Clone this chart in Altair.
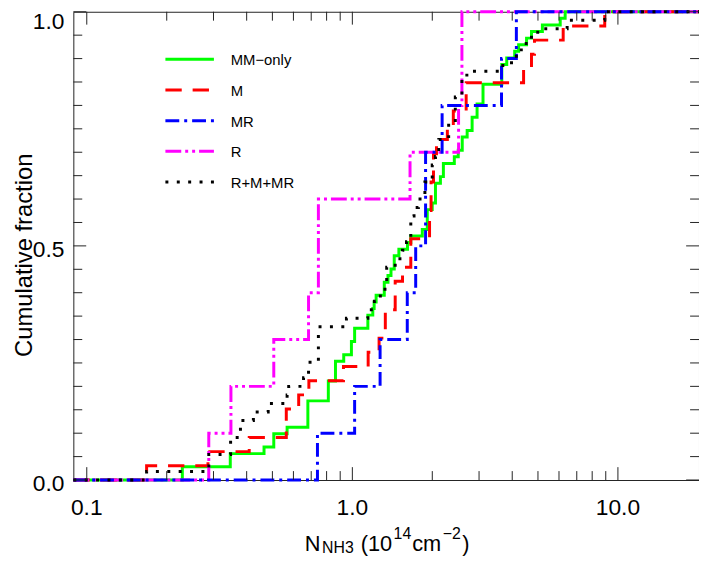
import altair as alt
import numpy as np
import pandas as pd

# ---------------- data (N_NH3 in units of 1e14 cm^-2) -------------
mm_only = [0.229, 0.229, 0.347, 0.347, 0.465, 0.506, 0.506, 0.568, 0.680, 0.680, 0.680, 0.680,
           0.812, 0.812, 0.812, 0.864, 0.864, 0.864, 0.928, 0.992, 0.992, 1.020, 1.020,
           1.144, 1.144, 1.194, 1.208, 1.229, 1.319, 1.319, 1.362, 1.398, 1.438, 1.438,
           1.497, 1.613, 1.660, 1.834, 1.915, 1.915, 1.915, 1.999, 2.056, 2.056, 2.056,
           2.146, 2.202, 2.202, 2.421, 2.505, 2.593, 2.593, 2.706, 2.825, 2.825, 2.949, 2.949,
           3.105, 3.105, 3.105, 3.654, 3.654, 3.654, 3.814, 4.086, 4.228, 4.529, 4.727,
           5.195, 6.064, 6.329]
m_vals = [0.168, 0.286, 0.409, 0.564, 0.564, 0.628, 0.686, 0.926, 1.147, 1.261, 1.331, 1.331,
          1.450, 1.450, 1.545, 1.660, 1.660, 1.953, 1.953, 1.979, 1.979, 2.021, 2.021, 2.074,
          2.279, 2.400, 2.683, 2.683, 4.414, 4.727, 4.851, 6.222, 8.92]
mr_vals = [0.739, 1.020, 1.272, 1.610, 1.732, 1.887, 1.887, 2.178, 3.645, 4.146]
r_vals = [0.288, 0.349, 0.506, 0.684, 0.745, 0.745, 1.649, 2.512, 2.586, 2.586]
rmmr_vals = [0.168, 0.288, 0.288, 0.348, 0.348, 0.379, 0.379, 0.424, 0.482, 0.568, 0.576,
             0.655, 0.684, 0.693, 0.745, 0.745, 0.745, 0.745, 0.950, 1.144, 1.211, 1.275,
             1.327, 1.347, 1.347, 1.450, 1.545, 1.599, 1.660, 1.660, 1.660, 1.707, 1.773,
             1.876, 1.876, 1.999, 1.999, 2.056, 2.116, 2.116, 2.305, 2.305, 2.442, 2.442,
             2.442, 2.586, 2.586, 2.699, 3.686, 4.146, 4.327, 4.516, 4.990, 6.439, 8.92]

series_names = ["MM\u2212only", "M", "MR", "R", "R+M+MR"]
series_values = [mm_only, m_vals, mr_vals, r_vals, rmmr_vals]
series_colors = ["#00ff00", "#ff0000", "#0000ff", "#ff00ff", "#000000"]
series_dashes = [None, [16.5, 11], [14, 5, 3, 5], [16, 4, 3, 4, 3, 4], [3, 8.5]]
draw_order = [0, 1, 3, 2, 4]

x_major = [0.1, 1.0, 10.0]
x_major_labels = ["0.1", "1.0", "10.0"]
x_minor = [0.2, 0.3, 0.4, 0.5, 0.6, 0.7, 0.8, 0.9, 2, 3, 4, 5, 6, 7, 8, 9]
y_major = [0.0, 0.5, 1.0]
y_major_labels = ["0.0", "0.5", "1.0"]
y_minor = [0.05, 0.10, 0.15, 0.20, 0.25, 0.30, 0.35, 0.40, 0.45,
           0.55, 0.60, 0.65, 0.70, 0.75, 0.80, 0.85, 0.90, 0.95]

XMIN, XMAX = 0.089, 20.2
W, H = 632, 473
FONT = "Liberation Sans"
TICK = "#222222"

xs = alt.Scale(type="log", domain=[XMIN, XMAX], nice=False)
ys = alt.Scale(domain=[0, 1], nice=False, zero=False)


def cdf_frame(vals):
    v = np.sort(np.asarray(vals, dtype=float))
    u, c = np.unique(v, return_counts=True)
    cum = np.cumsum(c) / len(v)
    x = np.concatenate([[XMIN], u, [XMAX]])
    y = np.concatenate([[0.0], cum, [1.0]])
    return pd.DataFrame({"x": x, "y": y, "i": np.arange(len(x))})


layers = []

# step CDF lines
for k in draw_order:
    props = dict(color=series_colors[k], strokeWidth=3, interpolate="step-after")
    if series_dashes[k] is not None:
        props["strokeDash"] = series_dashes[k]
    layers.append(
        alt.Chart(cdf_frame(series_values[k])).mark_line(**props).encode(
            x=alt.X("x:Q", scale=xs, axis=None),
            y=alt.Y("y:Q", scale=ys, axis=None),
            order=alt.Order("i:Q"),
        )
    )

# inward ticks on all four sides
def xticks(vals, L):
    df = pd.DataFrame({"v": vals})
    base = alt.Chart(df).mark_rule(color=TICK, strokeWidth=1)
    return [
        base.encode(x=alt.X("v:Q", scale=xs, axis=None), y=alt.value(H), y2=alt.value(H - L)),
        base.encode(x=alt.X("v:Q", scale=xs, axis=None), y=alt.value(0), y2=alt.value(L)),
    ]


def yticks(vals, L):
    df = pd.DataFrame({"v": vals})
    base = alt.Chart(df).mark_rule(color=TICK, strokeWidth=1)
    return [
        base.encode(y=alt.Y("v:Q", scale=ys, axis=None), x=alt.value(0), x2=alt.value(L)),
        base.encode(y=alt.Y("v:Q", scale=ys, axis=None), x=alt.value(W), x2=alt.value(W - L)),
    ]


layers += xticks(x_minor, 9) + xticks(x_major, 13) + yticks(y_minor, 9) + yticks(y_major, 13)

# tick labels
xl = pd.DataFrame({"v": x_major, "t": x_major_labels})
layers.append(
    alt.Chart(xl).mark_text(font=FONT, fontSize=23, align="center", baseline="middle", color="black").encode(
        x=alt.X("v:Q", scale=xs, axis=None), y=alt.value(H + 28.5), text="t:N")
)
yl = pd.DataFrame({"v": y_major, "t": y_major_labels})
layers.append(
    alt.Chart(yl.iloc[:2]).mark_text(font=FONT, fontSize=23, align="right", baseline="middle", dy=4,
                                     color="black").encode(
        y=alt.Y("v:Q", scale=ys, axis=None), x=alt.value(-9), text="t:N")
)
layers.append(
    alt.Chart(yl.iloc[2:]).mark_text(font=FONT, fontSize=23, align="right", baseline="middle", dy=10.5,
                                     color="black").encode(
        y=alt.Y("v:Q", scale=ys, axis=None), x=alt.value(-9), text="t:N")
)

# y-axis title
layers.append(
    alt.Chart(pd.DataFrame({"t": ["Cumulative fraction"]})).mark_text(
        font=FONT, fontSize=24, angle=270, align="center", baseline="top", color="black"
    ).encode(x=alt.value(-61), y=alt.value(246), text="t:N")
)

# x-axis title  N_NH3 (10^14 cm^-2), laid out piece by piece
EM = {"N": .722, "H": .722, "3": .556, "(": .333, "1": .556, "0": .556, "4": .556,
      "c": .5, "m": .833, "\u2212": .584, "2": .556, ")": .333, " ": .278}
MAIN, SUB = 22, 16
title_parts = [("N", MAIN, 0, 1.5), ("NH3", SUB, 2, 7), ("(10", MAIN, 0, 1.5), ("14", SUB, -12, 1),
               ("cm", MAIN, 0, 1.5), ("\u22122", SUB, -12, 1.5), (")", MAIN, 0, 0)]
widths = [sum(EM[ch] for ch in t) * fs + gap for t, fs, _, gap in title_parts]
cur = 317 - sum(widths) / 2
BASE = 545
for (txt, fs, dyy, gap), wdt in zip(title_parts, widths):
    layers.append(
        alt.Chart(pd.DataFrame({"t": [txt]})).mark_text(
            font=FONT, fontSize=fs, align="left", baseline="alphabetic", color="black"
        ).encode(x=alt.value(round(cur, 1)), y=alt.value(BASE + dyy), text="t:N")
    )
    cur += wdt

# legend
for i, k in enumerate(range(len(series_names))):
    yy = 48 + 31 * i
    props = dict(color=series_colors[k], strokeWidth=3)
    if series_dashes[k] is not None:
        props["strokeDash"] = series_dashes[k]
    layers.append(
        alt.Chart(pd.DataFrame({"a": [0]})).mark_rule(**props).encode(
            x=alt.value(93), x2=alt.value(142), y=alt.value(yy))
    )
    layers.append(
        alt.Chart(pd.DataFrame({"t": [series_names[k]]})).mark_text(
            font=FONT, fontSize=15, align="left", baseline="middle", color="black"
        ).encode(x=alt.value(159), y=alt.value(yy + 1), text="t:N")
    )

chart = alt.layer(*layers).properties(
    width=W, height=H,
    autosize=alt.AutoSizeParams(type="none"),
    padding={"left": 66, "top": 1, "right": 0, "bottom": 78},
    background="white",
).configure_view(stroke="#222222", strokeWidth=1)

chart.save("out.html", embed_options={"renderer": "svg", "actions": False})
